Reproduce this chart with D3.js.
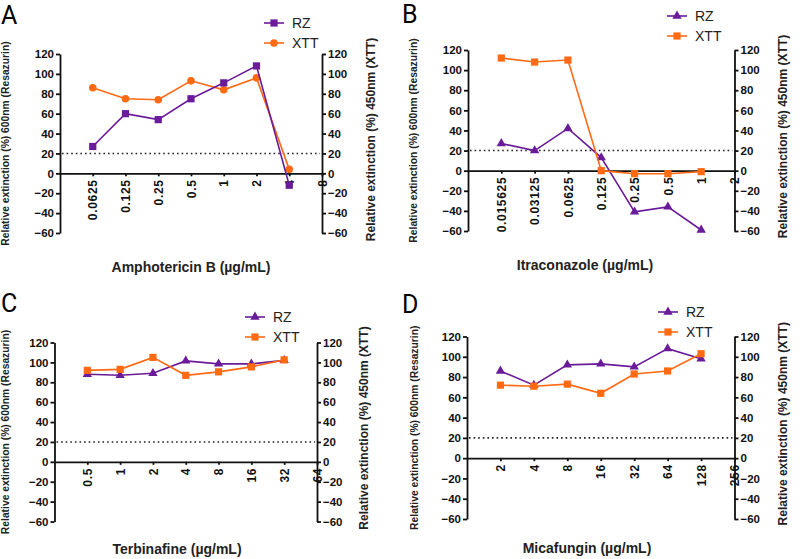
<!DOCTYPE html>
<html>
<head>
<meta charset="utf-8">
<script src="https://cdn.jsdelivr.net/npm/d3@7"></script>
<style>
body { margin: 0; background: #fff; }
svg { display: block; }
.axis text { font-family: "Liberation Sans", Arial, sans-serif; font-weight: bold; font-size: 11.5px; fill: #111; }
.axis path, .axis line { stroke: #111; stroke-width: 1.8px; }
.xaxis text { font-size: 12px; letter-spacing: 0.7px; }
</style>
</head>
<body>
<script>
// tick labels (concentrations, ug/mL)
var amphoLabels = ["0.0625", "0.125", "0.25", "0.5", "1", "2", "4", "8"];
var itraLabels = ["0.015625", "0.03125", "0.0625", "0.125", "0.25", "0.5", "1", "2"];
var terbLabels = ["0.5", "1", "2", "4", "8", "16", "32", "64"];
var micaLabels = ["2", "4", "8", "16", "32", "64", "128", "256"];

// relative extinction (%)
var amphoRZ = [27, 60, 54, 75, 91, 108, -12];
var amphoXTT = [86, 75, 74, 93, 84, 96, 4];
var itraRZ = [27, 20, 42, 13, -41, -36, -59];
var itraXTT = [112, 108, 110, 0, -3, -3, -1];
var terbRZ = [88, 87, 89, 101.5, 98.5, 98.5, 102];
var terbXTT = [92, 93, 105, 87, 90.5, 95.5, 102.5];
var micaRZ = [86, 72, 92, 93, 90, 108, 98];
var micaXTT = [72, 71, 73, 64, 83, 86, 103];

var yTicks = [-60, -40, -20, 0, 20, 40, 60, 80, 100, 120];
var cutoff = 20;

var purple = "#6a1b9a", orange = "#ff6a13";

var svg = d3.select("body").append("svg")
    .attr("width", 800)
    .attr("height", 559);

var panels = [
    {letter: "A", lx: 1, ly: 24, left: 60, right: 322, top: 54, bottom: 233,
     labels: amphoLabels, rz: amphoRZ, xtt: amphoXTT, rzShape: "square", xttShape: "circle",
     title: "Amphotericin B (\u00b5g/mL)", titleX: 191, titleY: 272,
     yl: 5, yr: 370.5, legX: 264, legY: 23},
    {letter: "B", lx: 402, ly: 23, left: 468, right: 734.5, top: 50, bottom: 231,
     labels: itraLabels, rz: itraRZ, xtt: itraXTT, rzShape: "triangle", xttShape: "square",
     title: "Itraconazole (\u00b5g/mL)", titleX: 585, titleY: 270,
     yl: 413, yr: 783, legX: 667, legY: 16},
    {letter: "C", lx: 1, ly: 312, left: 54.5, right: 317, top: 342.5, bottom: 521.5,
     labels: terbLabels, rz: terbRZ, xtt: terbXTT, rzShape: "triangle", xttShape: "square",
     title: "Terbinafine (\u00b5g/mL)", titleX: 177, titleY: 554,
     yl: 5, yr: 364, legX: 245, legY: 317},
    {letter: "D", lx: 402, ly: 313, left: 467, right: 734.5, top: 336.5, bottom: 519,
     labels: micaLabels, rz: micaRZ, xtt: micaXTT, rzShape: "triangle", xttShape: "square",
     title: "Micafungin (\u00b5g/mL)", titleX: 587, titleY: 553,
     yl: 414, yr: 783, legX: 658, legY: 312}
];

panels.forEach(drawPanel);

function marker(g, shape, x, y, color)
{
    if (shape == "square") {
        g.append("rect")
            .attr("x", x - 3.6).attr("y", y - 3.6)
            .attr("width", 7.2).attr("height", 7.2)
            .attr("fill", color);
    } else if (shape == "circle") {
        g.append("circle")
            .attr("cx", x).attr("cy", y).attr("r", 3.8)
            .attr("fill", color);
    } else {
        g.append("path")
            .attr("transform", "translate(" + x + "," + y + ")")
            .attr("d", d3.symbol().type(d3.symbolTriangle).size(38))
            .attr("fill", color);
    }
}

function drawPanel(p)
{
    var g = svg.append("g");

    var x = d3.scaleLinear()
        .domain([-1, p.labels.length - 1])
        .range([p.left, p.right]);
    var y = d3.scaleLinear()
        .domain([-60, 120])
        .range([p.bottom, p.top]);

    // panel letter
    g.append("text")
        .attr("x", p.lx).attr("y", p.ly)
        .attr("font-family", "Roboto, sans-serif")
        .attr("font-size", 25)
        .text(p.letter);

    // cutoff line
    g.append("line")
        .attr("x1", p.left + 2).attr("x2", p.right - 2)
        .attr("y1", y(cutoff)).attr("y2", y(cutoff))
        .attr("stroke", "#222")
        .attr("stroke-width", 1.6)
        .attr("stroke-dasharray", "1.6,3");

    var yAxisL = d3.axisLeft(y).tickValues(yTicks).tickSize(4).tickSizeOuter(0).tickPadding(2);
    var yAxisR = d3.axisRight(y).tickValues(yTicks).tickSize(4).tickSizeOuter(0).tickPadding(2);

    g.append("g")
        .attr("class", "axis")
        .attr("transform", "translate(" + p.left + ",0)")
        .call(yAxisL);

    g.append("g")
        .attr("class", "axis")
        .attr("transform", "translate(" + p.right + ",0)")
        .call(yAxisR);

    var xAxis = d3.axisBottom(x)
        .tickValues(d3.range(p.labels.length))
        .tickFormat(function (d) { return p.labels[d]; })
        .tickSize(3)
        .tickSizeOuter(0);

    var xg = g.append("g")
        .attr("class", "axis xaxis")
        .attr("transform", "translate(0," + y(0) + ")")
        .call(xAxis);

    xg.selectAll("text")
        .attr("transform", "rotate(-90)")
        .attr("text-anchor", "end")
        .attr("x", -6)
        .attr("y", 0)
        .attr("dy", "0.35em");

    // series
    var line = d3.line()
        .x(function (d, i) { return x(i); })
        .y(function (d) { return y(d); });

    var series = [
        {vals: p.xtt, color: orange, shape: p.xttShape},
        {vals: p.rz, color: purple, shape: p.rzShape}
    ];
    if (p.letter != "A") series.reverse();

    series.forEach(function (s) {
        g.append("path")
            .datum(s.vals)
            .attr("fill", "none")
            .attr("stroke", s.color)
            .attr("stroke-width", 1.6)
            .attr("d", line);
        s.vals.forEach(function (v, i) {
            marker(g, s.shape, x(i), y(v), s.color);
        });
    });

    // axis titles
    g.append("text")
        .attr("transform", "translate(" + p.yl + "," + ((p.top + p.bottom) / 2) + ") rotate(-90)")
        .attr("text-anchor", "middle")
        .attr("dy", "0.35em")
        .attr("font-family", "Liberation Sans, Arial, sans-serif")
        .attr("font-weight", "bold")
        .attr("font-size", 10.3)
        .attr("fill", "#222")
        .text("Relative extinction (%) 600nm (Resazurin)");

    g.append("text")
        .attr("transform", "translate(" + p.yr + "," + ((p.top + p.bottom) / 2 - 4) + ") rotate(-90)")
        .attr("text-anchor", "middle")
        .attr("dy", "0.35em")
        .attr("font-family", "Liberation Sans, Arial, sans-serif")
        .attr("font-weight", "bold")
        .attr("font-size", 12)
        .attr("fill", "#222")
        .text("Relative extinction (%) 450nm (XTT)");

    g.append("text")
        .attr("x", p.titleX).attr("y", p.titleY)
        .attr("text-anchor", "middle")
        .attr("font-family", "Liberation Sans, Arial, sans-serif")
        .attr("font-weight", "bold")
        .attr("font-size", 14)
        .attr("fill", "#222")
        .text(p.title);

    // legend
    var leg = [
        {name: "RZ", color: purple, shape: p.rzShape},
        {name: "XTT", color: orange, shape: p.xttShape}
    ];
    leg.forEach(function (l, i) {
        var ly = p.legY + i * 20;
        g.append("line")
            .attr("x1", p.legX).attr("x2", p.legX + 20)
            .attr("y1", ly).attr("y2", ly)
            .attr("stroke", l.color)
            .attr("stroke-width", 1.6);
        marker(g, l.shape, p.legX + 10, ly, l.color);
        g.append("text")
            .attr("x", p.legX + 28).attr("y", ly)
            .attr("dy", "0.36em")
            .attr("font-family", "Liberation Sans, Arial, sans-serif")
            .attr("font-size", 14)
            .attr("fill", "#222")
            .text(l.name);
    });
}
</script>
</body>
</html>
